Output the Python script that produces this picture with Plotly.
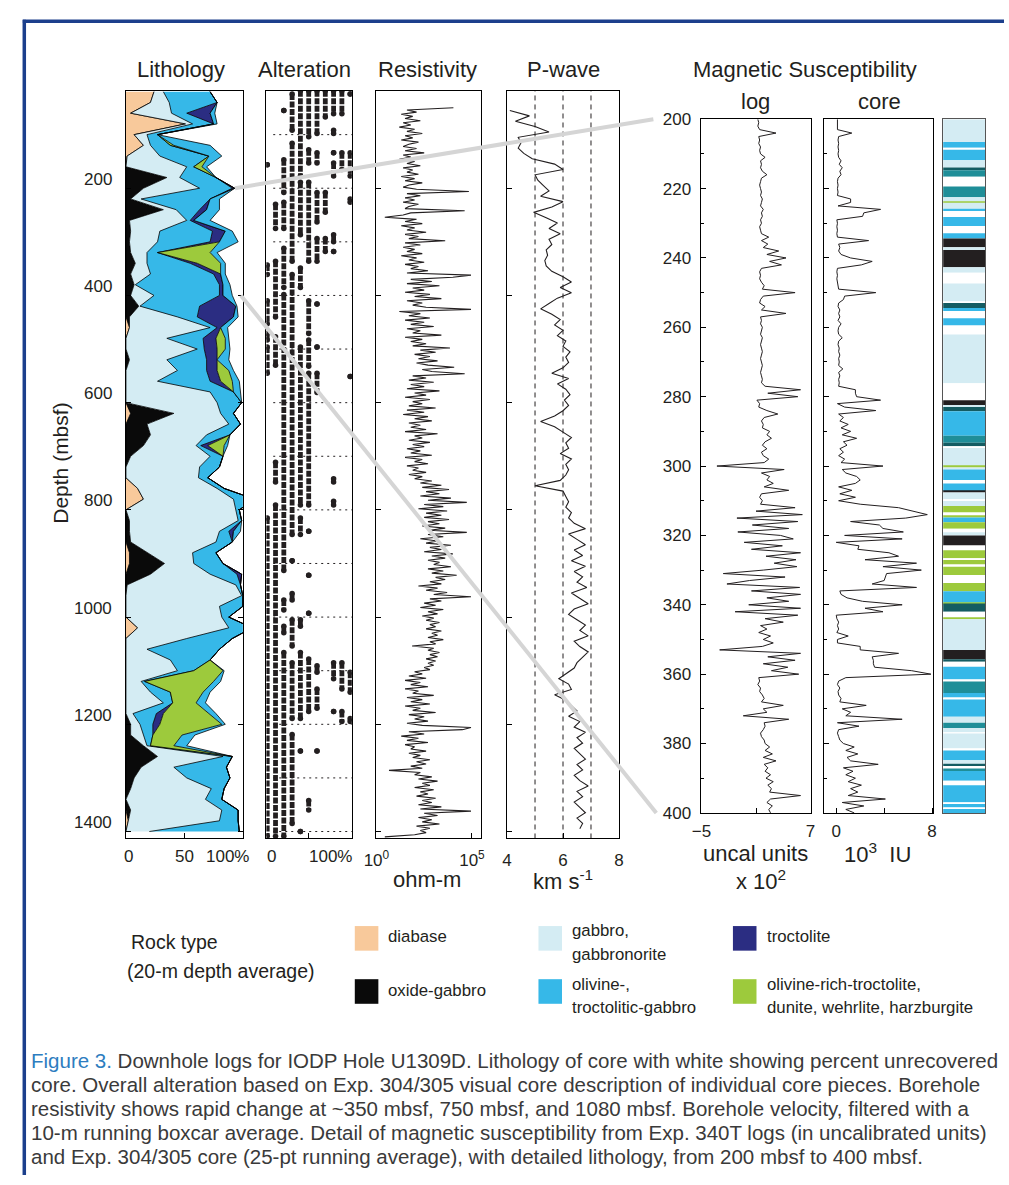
import numpy as np
import plotly.graph_objects as go

W, H = 1009, 1185
FONT = "Liberation Sans, Arial, Helvetica, sans-serif"
INK = "#231f20"

# ---------------------------------------------------------------- data
# Lithology: 20-m depth averages, percent of each rock type (rest = unrecovered)
lith_depth = list(range(20, 1401, 20))
diabase = [24, 21, 4, 51, 7, 15, 1, 0, 0, 0, 0, 0, 0, 0, 0, 0, 0, 0, 0, 0,
           0, 0, 3, 0, 0, 0, 0, 0, 0, 0, 4, 0, 0, 0, 0, 0, 0, 10, 15, 0,
           0, 0, 0, 3, 3, 0, 0, 0, 0, 0, 10, 0, 0, 0, 0, 0, 0, 0, 0, 0,
           0, 0, 0, 0, 0, 0, 0, 0, 2, 0]
oxide_gabbro = [0, 0, 0, 0, 0, 0, 0, 0, 35, 15, 4, 32, 3, 4, 3, 4, 8, 4, 7, 4,
                11, 3, 0, 0, 0, 3, 0, 0, 0, 0, 37, 18, 21, 15, 4, 0, 0, 0, 0, 0,
                3, 3, 4, 15, 30, 21, 1, 0, 0, 0, 0, 0, 0, 0, 0, 0, 0, 0, 0, 4,
                4, 15, 27, 13, 7, 4, 0, 4, 0, 0]
gabbro = [8, 16, 35, 6, 11, 6, 28, 52, 11, 48, 9, 11, 49, 25, 24, 14, 10, 17, 1, 20,
          1, 41, 69, 35, 61, 32, 44, 27, 72, 78, 40, 70, 48, 45, 68, 63, 62, 68, 77, 94,
          93, 77, 73, 39, 25, 51, 93, 99, 80, 82, 78, 52, 18, 38, 44, 13, 21, 32, 6, 8,
          11, 3, 56, 28, 45, 69, 68, 78, 78, 20]
olivine_gabbro = [40, 41, 13, 18, 9, 17, 42, 6, 31, 28, 59, 20, 3, 45, 45, 9, 37, 54, 72, 56,
                  51, 17, 6, 31, 6, 34, 25, 45, 20, 21, 11, 10, 20, 4, 11, 17, 8, 6, 18, 3,
                  3, 8, 14, 20, 25, 23, 4, 1, 20, 6, 20, 39, 62, 34, 14, 3, 17, 8, 20, 11,
                  8, 3, 8, 45, 37, 11, 14, 14, 16, 77]
troctolite = [0, 0, 20, 0, 0, 0, 0, 0, 0, 2, 0, 6, 3, 11, 8, 0, 6, 6, 3, 3,
              31, 31, 3, 11, 11, 9, 9, 9, 0, 0, 0, 0, 0, 6, 0, 0, 0, 0, 0, 0,
              0, 4, 0, 0, 0, 4, 0, 0, 0, 0, 0, 0, 0, 0, 0, 0, 0, 0, 6, 6,
              0, 0, 0, 0, 0, 0, 0, 0, 0, 0]
olivine_rich = [0, 0, 0, 0, 0, 3, 0, 7, 0, 0, 0, 0, 0, 0, 0, 45, 20, 0, 0, 0,
                0, 0, 0, 8, 7, 0, 10, 10, 0, 0, 0, 0, 0, 14, 0, 0, 0, 0, 0, 0,
                0, 0, 0, 0, 0, 0, 0, 0, 0, 0, 0, 0, 0, 0, 25, 59, 28, 20, 39, 53,
                25, 20, 0, 0, 0, 0, 0, 0, 0, 0]
troctolitic_gabbro = [0, 0, 4, 3, 0, 31, 11, 4, 0, 0, 8, 11, 14, 6, 16, 6, 4, 4, 6, 8,
                      1, 4, 6, 3, 4, 10, 4, 6, 6, 0, 0, 0, 0, 3, 0, 0, 0, 0, 0, 0,
                      0, 6, 0, 0, 0, 0, 0, 0, 0, 0, 0, 0, 0, 0, 1, 6, 6, 8, 6, 3,
                      11, 11, 0, 0, 0, 0, 0, 0, 0, 0]

rock_colors = ["#f8c99b", "#0a0a0a", "#d4ecf3", "#36b8e8", "#2b2d82", "#9dca3c"]

# Alteration: depth intervals (mbsf) of core pieces at each alteration level
alt_levels = [0, 20, 40, 60, 80, 100, 120, 140, 160, 180, 200]
alt_000 = [(156, 156), (343, 361), (410, 453), (471, 483), (496, 545), (815, 1409)]
alt_020 = [(230, 275), (336, 440), (477, 530), (711, 748), (791, 1409)]
alt_040 = [(55, 55), (147, 208), (226, 275), (312, 385), (398, 913), (968, 987),
           (1017, 1029), (1066, 1409)]
alt_060 = [(24, 92), (116, 336), (361, 846), (895, 895), (956, 968), (1005, 1054),
           (1085, 1189), (1219, 1385)]
alt_080 = [(18, 177), (189, 287), (349, 385), (496, 791), (815, 846), (1005, 1017),
           (1066, 1189), (1250, 1250), (1400, 1400)]
alt_100 = [(18, 104), (128, 153), (189, 336), (410, 471), (483, 532), (545, 791),
           (840, 840), (922, 922), (993, 993), (1078, 1176), (1342, 1360)]
alt_120 = [(18, 98), (134, 153), (208, 263), (294, 336), (416, 416), (496, 496),
           (545, 581), (1091, 1103), (1134, 1170), (1250, 1250)]
alt_140 = [(18, 67), (208, 245), (294, 318)]
alt_160 = [(18, 61), (92, 98), (134, 134), (153, 177), (287, 300), (318, 318),
           (742, 748), (784, 791), (1085, 1115), (1176, 1176)]
alt_180 = [(18, 61), (134, 165), (1085, 1134), (1176, 1195)]
alt_200 = [(24, 24), (134, 177), (220, 226), (551, 551), (1103, 1140), (1189, 1195)]
alt_ref_depths = list(range(100, 1401, 100))

# Resistivity: log10(ohm-m), every 4 m from 50 mbsf
res_start, res_step = 50, 4
res_log10 = [
    4.03, 1.6, 2.1, 1.3, 1.9, 1.5, 2.3, 1.4, 1.8, 1.2,
    2.0, 1.6, 2.4, 1.5, 1.9, 1.3, 2.2, 1.7, 1.4, 2.1,
    1.5, 2.5, 1.4, 1.8, 1.2, 2.0, 1.6, 2.3, 1.4, 1.9,
    1.6, 2.2, 1.3, 2.0, 1.5, 2.4, 1.7, 1.4, 2.1, 4.84,
    1.6, 2.3, 1.5, 2.0, 1.4, 2.2, 1.7, 1.5, 4.62, 1.8,
    1.4, 0.44, 2.1, 1.5, 2.4, 1.3, 2.0, 1.6, 2.6, 1.5,
    2.2, 1.7, 3.6, 1.5, 2.3, 1.4, 2.0, 1.6, 2.4, 1.3,
    2.1, 1.7, 2.5, 1.5, 2.2, 1.8, 2.7, 1.6, 4.95, 4.0,
    1.8, 2.9, 1.6, 3.3, 1.9, 2.5, 1.5, 2.8, 2.0, 3.4,
    1.6, 2.4, 1.9, 2.6, 4.95, 1.2, 2.3, 1.7, 2.8, 1.5,
    2.5, 1.8, 3.0, 1.6, 2.3, 1.9, 3.4, 1.5, 2.4, 1.8,
    2.6, 1.9, 3.85, 2.3, 3.1, 2.0, 2.8, 2.2, 3.2, 2.1,
    2.7, 4.07, 2.4, 2.9, 4.62, 1.9, 2.6, 1.7, 3.0, 1.8,
    2.5, 1.6, 3.3, 2.0, 2.6, 1.5, 2.8, 1.9, 2.4, 1.7,
    3.1, 1.6, 2.5, 1.4, 2.7, 2.0, 2.9, 1.7, 2.3, 1.8,
    2.6, 1.5, 3.2, 2.0, 2.4, 1.7, 2.8, 1.9, 2.5, 1.6,
    2.3, 1.8, 2.9, 1.5, 2.4, 2.0, 2.7, 1.6, 2.2, 1.9,
    2.6, 1.7, 2.4, 2.0, 2.9, 2.3, 3.4, 2.4, 3.8, 2.6,
    3.3, 2.3, 3.9, 2.7, 4.73, 2.5, 3.5, 2.2, 3.7, 2.6,
    3.4, 2.5, 3.8, 2.7, 3.3, 2.4, 3.6, 2.8, 4.73, 2.7,
    3.5, 2.3, 3.2, 2.6, 3.9, 2.8, 3.4, 2.5, 4.0, 2.9,
    3.6, 2.7, 3.3, 3.0, 3.9, 2.7, 3.5, 2.9, 4.2, 3.1,
    3.6, 2.8, 3.4, 2.2, 3.2, 2.6, 3.7, 3.0, 4.95, 2.8,
    3.4, 2.5, 3.1, 2.3, 3.5, 2.7, 3.2, 2.4, 3.0, 2.6,
    3.3, 2.8, 3.1, 2.6, 3.4, 2.9, 3.2, 2.7, 3.5, 2.8,
    3.1, 1.87, 3.0, 2.7, 3.3, 2.8, 3.2, 2.6, 3.1, 2.7,
    3.0, 2.5, 2.8, 2.0, 2.4, 1.7, 2.6, 1.5, 2.3, 1.8,
    2.7, 1.5, 2.2, 1.9, 3.0, 1.6, 2.4, 1.8, 2.8, 1.5,
    2.3, 1.9, 3.1, 1.7, 2.5, 2.0, 2.7, 1.6, 2.4, 4.95,
    4.5, 1.7, 2.5, 1.3, 2.2, 1.6, 2.7, 1.5, 2.0, 1.8,
    2.6, 1.7, 2.3, 1.9, 2.8, 2.1, 2.6, 1.8, 2.4, 0.66,
    2.3, 2.0, 2.9, 2.2, 3.2, 2.4, 2.8, 2.0, 3.0, 2.3,
    2.7, 2.1, 3.1, 2.4, 2.9, 2.2, 3.4, 2.3, 4.95, 2.5,
    3.2, 2.2, 2.9, 2.4, 3.3, 2.1, 2.8, 2.3, 2.6, 2.0,
    0.44]

# P-wave velocity (km/s), 10-m boxcar, every 10 m from 55 mbsf
pw_start, pw_step = 55, 10
pwave = [
    4.1, 4.8, 4.3, 5.0, 5.5, 4.4, 4.5, 4.4, 4.6, 4.9,
    5.7, 6.0, 5.0, 5.1, 5.3, 5.5, 5.2, 6.0, 5.6, 4.95,
    5.4, 5.8, 5.5, 5.9, 5.5, 5.6, 5.4, 5.45, 5.35, 5.4,
    5.6, 6.0, 6.3, 5.9, 6.3, 5.8, 5.5, 5.2, 5.6, 5.9,
    5.7, 6.0, 5.8, 6.1, 6.0, 6.25, 6.1, 6.2, 6.0, 5.6,
    6.2, 5.8, 6.1, 6.25, 6.05, 6.2, 6.0, 5.7, 5.2, 5.7,
    6.0, 6.3, 6.1, 6.2, 5.9, 6.3, 6.1, 6.2, 6.1, 5.9,
    5.0, 6.0, 6.1, 6.2, 6.1, 6.3, 6.2, 6.4, 6.8, 6.2,
    6.5, 6.8, 6.4, 6.7, 6.3, 6.8, 6.4, 6.7, 6.5, 6.85,
    6.3, 6.6, 6.9, 6.4, 6.2, 6.5, 6.8, 6.6, 6.9, 6.4,
    6.6, 6.9, 6.7, 6.5, 6.4, 6.1, 5.85, 6.2, 6.3, 5.7,
    6.1, 6.3, 6.5, 6.2, 6.6, 6.4, 6.8, 6.5, 6.7, 6.4,
    6.6, 6.8, 6.5, 6.7, 6.4, 6.6, 6.9, 6.5, 6.7, 6.4,
    6.6, 6.8, 6.5, 6.7, 6.6]
pwave_ref = [5, 6, 7]

# Magnetic susceptibility, 1-m steps from 200 to 400 mbsf
mag_start = 200
mag_log = [
    1.2, 1.3, 1.2, 1.4, 3.2, 1.3, 1.4, 1.3, 1.5, 1.4,
    1.5, 2.0, 1.5, 1.6, 1.5, 1.7, 2.2, 1.6, 1.5, 1.4,
    1.5, 1.6, 1.5, 1.7, 1.6, 1.5, 1.8, 1.6, 1.7, 1.5,
    1.6, 1.4, 1.5, 1.6, 2.4, 1.6, 2.3, 1.8, 3.5, 2.2,
    4.3, 2.5, 3.8, 1.6, 1.4, 1.5, 1.4, 1.6, 1.9, 1.7,
    5.3, 1.8, 1.5, 1.4, 2.0, 1.6, 4.3, 1.5, 1.6, 1.5,
    1.7, 1.6, 1.5, 1.7, 1.6, 1.5, 1.6, 1.7, 1.6, 1.5,
    1.6, 1.7, 1.6, 1.5, 1.6, 1.7, 1.6, 2.0, 5.9, 2.3,
    5.6, 1.1, 1.4, 1.3, 2.2, 3.4, 1.9, 1.6, 1.8, 1.7,
    2.5, 2.2, 2.7, 2.0, 1.7, 2.2, 1.6, 1.8, 2.4, 1.9,
    -3.3, 4.1, 1.6, 2.5, 2.2, 2.9, 1.9, 4.6, 1.6, 1.4,
    1.7, 1.5, 5.3, 1.0, 6.1, -1.1, 5.6, 0.6, 4.6, -1.0,
    3.7, 5.1, -0.3, 3.9, 0.5, 5.9, 2.1, 5.4, 3.0, 5.5,
    1.8, -2.6, 4.2, 0.3, -2.2, 5.8, 0.5, 5.9, 2.2, 4.6,
    0.2, 5.9, -1.3, 5.6, 2.0, 4.0, 1.5, 2.2, 1.3, 2.6,
    1.8, 2.9, 1.7, -3.0, 5.9, 2.3, 5.3, 1.8, 4.5, 2.7,
    5.7, 1.3, 1.4, 1.2, 1.5, 1.4, 1.7, 1.9, 1.6, 4.0,
    1.8, 2.2, -0.4, 4.6, 1.9, 2.0, 1.8, 1.5, 1.6, 1.9,
    2.0, 2.5, 2.0, 2.8, 1.8, 3.2, 1.9, 2.3, 2.0, 2.6,
    2.1, 2.9, 2.3, 2.7, 2.5, 5.9, 2.6, 2.2, 2.8, 2.4,
    2.6]
mag_core = [
    0.1, 0.1, 0.15, 0.1, 1.3, 0.2, 0.15, 0.2, 0.15, 0.2,
    0.15, 0.2, 0.4, 0.25, 0.5, 0.3, 0.4, 0.15, 0.1, 0.15,
    0.1, 0.15, 0.1, 1.2, 1.2, 0.15, 3.7, 2.3, 2.2, 0.05,
    0.1, 0.05, 0.1, 0.05, 0.1, 2.7, 0.2, 0.3, 0.2, 0.4,
    1.2, 3.0, 2.1, 0.1, 0.05, 0.1, 0.05, 0.1, 0.1, 0.2,
    3.3, 0.7, 0.6, 0.2, 0.15, 0.3, 0.2, 0.3, 0.15, 0.4,
    0.2, 0.15, 0.2, 0.5, 0.2, 0.15, 0.25, 0.2, 0.3, 0.2,
    0.25, 0.2, 0.55, 0.2, 0.3, 0.2, 0.25, 0.2, 1.6, 1.6,
    1.7, 3.7, 0.1, 0.7, 3.3, 0.2, 0.6, 0.3, 1.0, 0.4,
    1.2, 0.5, 1.7, 0.6, 0.9, 0.3, 0.6, 0.2, 0.7, 0.4,
    3.9, 0.5, 0.8, 1.7, 2.0, 1.6, 0.2, 1.3, 0.3, 1.6,
    0.2, 2.0, 5.2, 6.3, 7.6, 5.8, 1.2, 3.6, 3.9, 5.6,
    0.7, 5.5, 0.0, 1.9, 1.8, 4.4, 5.2, 2.4, 6.7, 3.9,
    7.1, 4.2, 4.1, 4.0, 3.0, 6.7, 0.3, 0.4, 0.9, 2.2,
    5.5, 2.4, 3.9, 0.0, 0.05, 0.2, 0.1, 0.2, 0.05, 1.0,
    0.1, 0.1, 2.0, 2.0, 5.2, 3.0, 3.1, 3.1, 3.2, 6.3,
    7.9, 0.8, 0.2, 0.1, 0.3, 0.15, 0.2, 0.4, 0.3, 2.5,
    0.5, 1.2, 0.8, 5.5, 0.1, 1.9, 0.2, 0.1, 0.2, 0.3,
    0.6, 1.5, 0.8, 1.8, 0.9, 1.2, 3.5, 0.6, 1.4, 0.8,
    1.6, 1.0, 2.1, 1.2, 1.8, 1.0, 4.1, 0.5, 2.3, 0.8,
    1.5]

# Detailed lithology 200-400 mbsf
band_top = [200, 206.6, 208.2, 208.8, 211.8, 213.9, 214.7, 216.6, 219.4, 222.5,
            223.8, 224.1, 225.8, 226.5, 228.2, 230.8, 232.9, 234.4, 236.9, 237.7,
            242.7, 244.3, 247.4, 252.6, 253.0, 254.4, 255.3, 257.4, 259.5, 262.1,
            276.1, 281.0, 282.4, 283.0, 284.2, 291.3, 293.3, 294.3, 294.8, 300.0,
            300.4, 301.0, 304.0, 305.0, 307.2, 307.6, 309.6, 310.1, 311.5, 313.4,
            314.3, 314.8, 316.2, 318.1, 319.1, 320.0, 322.9, 324.3, 326.6, 327.1,
            328.5, 329.0, 331.4, 333.7, 336.1, 339.4, 339.6, 342.0, 343.7, 344.2,
            353.0, 355.7, 356.4, 357.9, 361.6, 362.1, 365.4, 366.9, 367.3, 372.3,
            374.0, 375.5, 376.8, 377.1, 381.5, 382.0, 384.8, 385.8, 386.5, 387.2,
            387.9, 390.7, 392.0, 397.0, 397.4, 398.5, 398.9]
band_bottom = band_top[1:] + [400.0]
band_kind = ["lb", "cy", "wh", "cy", "lb", "dt", "te", "wh", "te", "lb",
             "gr", "lb", "cy", "wh", "cy", "wh", "cy", "bk", "lb", "bk",
             "lb", "wh", "lb", "wh", "dt", "cy", "wh", "cy", "wh", "lb",
             "wh", "bk", "lb", "dt", "cy", "te", "dt", "wh", "lb", "gr",
             "lb", "cy", "wh", "cy", "bk", "lb", "wh", "lb", "gr", "wh",
             "gr", "cy", "gr", "wh", "lb", "bk", "wh", "gr", "wh", "gr",
             "wh", "gr", "wh", "gr", "cy", "gr", "dt", "wh", "gr", "lb",
             "bk", "dt", "wh", "cy", "wh", "te", "cy", "wh", "cy", "lb",
             "te", "lb", "wh", "lb", "wh", "cy", "lb", "dt", "wh", "te",
             "cy", "wh", "cy", "wh", "cy", "wh", "cy"]
band_palette = {"lb": "#d4ecf3", "cy": "#36b8e8", "te": "#1f8e98", "dt": "#145c62",
                "bk": "#231f20", "gr": "#9dca3c", "wh": "#ffffff"}

caption_lines = [
    "<span style='color:#2d7dc0'>Figure 3.</span> Downhole logs for IODP Hole U1309D. Lithology of core with white showing percent unrecovered",
    "core. Overall alteration based on Exp. 304/305 visual core description of individual core pieces. Borehole",
    "resistivity shows rapid change at ~350 mbsf, 750 mbsf, and 1080 mbsf. Borehole velocity, filtered with a",
    "10-m running boxcar average. Detail of magnetic susceptibility from Exp. 340T logs (in uncalibrated units)",
    "and Exp. 304/305 core (25-pt running average), with detailed lithology, from 200 mbsf to 400 mbsf.",
]

# ---------------------------------------------------------------- geometry helpers
def px(x):
    return x / W


def py(y):
    return 1 - y / H


LEFT_TOP, LEFT_BOT = 83, 843
MAG_TOP, MAG_BOT = 112, 817
DEPTH_RANGE = [1413, 18]
MAG_RANGE = [400, 200]
left_dom = [py(LEFT_BOT), py(LEFT_TOP)]
mag_dom = [py(MAG_BOT), py(MAG_TOP)]


def left_depth_paper(d):
    return left_dom[0] + (DEPTH_RANGE[0] - d) / (DEPTH_RANGE[0] - DEPTH_RANGE[1]) * (left_dom[1] - left_dom[0])


def mag_depth_paper(d):
    return mag_dom[0] + (MAG_RANGE[0] - d) / (MAG_RANGE[0] - MAG_RANGE[1]) * (mag_dom[1] - mag_dom[0])


# ---------------------------------------------------------------- traces
fig = go.Figure()

lith_series = [diabase, oxide_gabbro, gabbro, olivine_gabbro, troctolite, olivine_rich, troctolitic_gabbro]
lith_fill = [rock_colors[0], rock_colors[1], rock_colors[2], rock_colors[3],
             rock_colors[4], rock_colors[5], rock_colors[3]]
for vals, col in zip(lith_series, lith_fill):
    fig.add_trace(go.Scatter(
        x=vals, y=lith_depth, mode="lines", stackgroup="lith", orientation="h",
        line=dict(color="black", width=0.8), fillcolor=col,
        xaxis="x", yaxis="y", hoverinfo="skip", showlegend=False))

alt_columns = [alt_000, alt_020, alt_040, alt_060, alt_080, alt_100,
               alt_120, alt_140, alt_160, alt_180, alt_200]
for lvl, ivs in zip(alt_levels, alt_columns):
    xs, ys = [], []
    for a, b in ivs:
        xs += [lvl, lvl, None]
        ys += [a, b, None]
    fig.add_trace(go.Scatter(
        x=xs, y=ys, mode="lines+markers", line=dict(color=INK, width=4.8, dash="6px,1.5px"),
        marker=dict(color=INK, size=5.5), xaxis="x2", yaxis="y2",
        hoverinfo="skip", showlegend=False))

res_depth = res_start + res_step * np.arange(len(res_log10))
fig.add_trace(go.Scatter(
    x=np.power(10.0, np.array(res_log10)), y=res_depth, mode="lines",
    line=dict(color=INK, width=1.1), xaxis="x3", yaxis="y3",
    hoverinfo="skip", showlegend=False))

pw_depth = pw_start + pw_step * np.arange(len(pwave))
fig.add_trace(go.Scatter(
    x=pwave, y=pw_depth, mode="lines", line=dict(color=INK, width=1.1),
    xaxis="x4", yaxis="y4", hoverinfo="skip", showlegend=False))

mag_depth = mag_start + np.arange(len(mag_log))
fig.add_trace(go.Scatter(
    x=mag_log, y=mag_depth, mode="lines", line=dict(color=INK, width=1),
    xaxis="x5", yaxis="y5", hoverinfo="skip", showlegend=False))
core_depth = mag_start + np.arange(len(mag_core))
fig.add_trace(go.Scatter(
    x=mag_core, y=core_depth, mode="lines", line=dict(color=INK, width=1),
    xaxis="x6", yaxis="y6", hoverinfo="skip", showlegend=False))

fig.add_trace(go.Bar(
    x=[0.5] * len(band_top), y=[b - t for t, b in zip(band_top, band_bottom)],
    base=band_top, width=1, marker=dict(color=[band_palette[k] for k in band_kind],
                                        line=dict(width=0)),
    xaxis="x7", yaxis="y7", hoverinfo="skip", showlegend=False))

# ---------------------------------------------------------------- axes
TICKFONT = dict(size=17, color=INK, family=FONT)


def ax(**kw):
    d = dict(showline=True, mirror=True, linecolor="black", linewidth=1,
             showgrid=False, zeroline=False, ticks="inside", ticklen=5,
             tickcolor="black", tickfont=TICKFONT, fixedrange=True)
    d.update(kw)
    return d


depth_ticks = list(range(200, 1401, 200))
mag_ticks = list(range(200, 401, 20))
mag_minor = dict(tickmode="linear", tick0=200, dtick=10, ticks="inside", ticklen=3, tickcolor="black")

fig.update_layout(
    xaxis=ax(domain=[px(115), px(234)], range=[0, 100], tickvals=[0, 50, 100],
             showticklabels=False, anchor="y"),
    yaxis=ax(domain=left_dom, range=DEPTH_RANGE, tickvals=depth_ticks,
             showticklabels=False, anchor="x", mirror="ticks"),
    xaxis2=ax(domain=[px(258), px(345)], range=[-2, 204], tickvals=[0, 100],
              showticklabels=False, anchor="y2"),
    yaxis2=ax(domain=left_dom, range=DEPTH_RANGE, matches="y", ticks="",
              showticklabels=False, anchor="x2"),
    xaxis3=ax(domain=[px(370), px(477)], type="log", range=[0, 5.5],
              tickvals=[1, 1e5], ticktext=["10<sup>0</sup>", "10<sup>5</sup>"],
              anchor="y3", ticklabelstandoff=6),
    yaxis3=ax(domain=left_dom, range=DEPTH_RANGE, matches="y", tickvals=depth_ticks,
              showticklabels=False, anchor="x3"),
    xaxis4=ax(domain=[px(503), px(617)], range=[4, 8], tickvals=[4, 6, 8],
              anchor="y4", ticklabelstandoff=6),
    yaxis4=ax(domain=left_dom, range=DEPTH_RANGE, matches="y", tickvals=depth_ticks,
              showticklabels=False, anchor="x4"),
    xaxis5=ax(domain=[px(701), px(812)], range=[-5, 7], tickvals=[-5, 7],
              anchor="y5", ticklabelstandoff=3,
              minor=dict(tickmode="array", tickvals=[1], ticks="inside", ticklen=5, tickcolor="black")),
    yaxis5=ax(domain=mag_dom, range=MAG_RANGE, tickvals=mag_ticks, anchor="x5",
              ticklabelstandoff=6, minor=mag_minor),
    xaxis6=ax(domain=[px(826), px(937)], range=[-1, 8.1], tickvals=[0, 8],
              anchor="y6", ticklabelstandoff=3,
              minor=dict(tickmode="array", tickvals=[4], ticks="inside", ticklen=5, tickcolor="black")),
    yaxis6=ax(domain=mag_dom, range=MAG_RANGE, matches="y5", tickvals=mag_ticks,
              showticklabels=False, anchor="x6", minor=mag_minor),
    xaxis7=dict(domain=[px(947), px(990)], range=[0, 1], showline=True, mirror=True,
                linecolor="#555555", showticklabels=False, ticks="", showgrid=False,
                zeroline=False, anchor="y7", fixedrange=True),
    yaxis7=dict(domain=mag_dom, range=MAG_RANGE, matches="y5", showline=True, mirror=True,
                linecolor="#555555", showticklabels=False, ticks="", showgrid=False,
                zeroline=False, anchor="x7", fixedrange=True),
)

# ---------------------------------------------------------------- shapes
shapes = []
for v in pwave_ref:
    shapes.append(dict(type="line", xref="x4", yref="y4 domain", x0=v, x1=v, y0=0, y1=1,
                       line=dict(color=INK, width=1, dash="5px,4px"), layer="below"))
for d in alt_ref_depths:
    shapes.append(dict(type="line", xref="x2 domain", yref="y2", x0=0.08, x1=1, y0=d, y1=d,
                       line=dict(color=INK, width=1, dash="2px,4px"), layer="below"))
# zoom connector lines (200 and 400 mbsf)
for d, x0, x1 in [(200, 226, 652), (400, 232, 655)]:
    shapes.append(dict(type="line", xref="paper", yref="paper",
                       x0=px(x0), y0=left_depth_paper(d), x1=px(x1), y1=mag_depth_paper(d),
                       line=dict(color="#d5d5d5", width=4), layer="above"))
# page frame
shapes.append(dict(type="line", xref="paper", yref="paper", x0=px(10), x1=1, y0=py(12.5), y1=py(12.5),
                   line=dict(color="#1c3f8c", width=3.5)))
shapes.append(dict(type="line", xref="paper", yref="paper", x0=px(11.5), x1=px(11.5), y0=py(11), y1=0,
                   line=dict(color="#1c3f8c", width=3.5)))

# legend swatches
legend_cols = [348, 535, 733]
legend_rows = [932, 986]
legend_order = [[0, 1], [2, 3], [4, 5]]
legend_text = {0: ["diabase"], 1: ["oxide-gabbro"], 2: ["gabbro,", "gabbronorite"],
               3: ["olivine-,", "troctolitic-gabbro"], 4: ["troctolite"],
               5: ["olivine-rich-troctolite,", "dunite, wehrlite, harzburgite"]}
annotations = []
for ci, col_x in enumerate(legend_cols):
    for ri, row_y in enumerate(legend_rows):
        k = legend_order[ci][ri]
        shapes.append(dict(type="rect", xref="paper", yref="paper",
                           x0=px(col_x), x1=px(col_x + 24), y0=py(row_y + 25), y1=py(row_y),
                           fillcolor=rock_colors[k], line=dict(width=0)))
        lines = legend_text[k]
        tx = col_x + (32 if ci < 2 else 33)
        if len(lines) == 1:
            ys = [row_y + 11]
        else:
            ys = [row_y + 5, row_y + 29]
        for t, yy in zip(lines, ys):
            annotations.append(dict(text=t, x=px(tx), y=py(yy), xref="paper", yref="paper",
                                    xanchor="left", yanchor="middle", showarrow=False,
                                    font=dict(size=16.8, color=INK, family=FONT)))

fig.update_layout(shapes=shapes)


def note(text, x, y, size=17, anchor="center", **kw):
    a = dict(text=text, x=px(x), y=py(y), xref="paper", yref="paper", xanchor=anchor,
             yanchor="middle", showarrow=False, font=dict(size=size, color=INK, family=FONT))
    a.update(kw)
    annotations.append(a)


# panel titles
note("Lithology", 171, 61, 22)
note("Alteration", 297, 61, 22)
note("Resistivity", 422, 61, 22)
note("P-wave", 560, 61, 22)
note("Magnetic Susceptibility", 806, 61, 22)
note("log", 756, 94, 22)
note("core", 882, 94, 22)
note("Depth (mbsf)", 48, 462, 21, textangle=-90)

# depth labels of the main column
for d in depth_ticks:
    annotations.append(dict(text=str(d), x=px(103), y=d, xref="paper", yref="y",
                            xanchor="right", yanchor="middle", yshift=9, showarrow=False,
                            font=TICKFONT))
# lithology / alteration percentage labels
note("0", 118, 861)
note("50", 175, 861)
note("100%", 218, 861)
note("0", 263, 861)
note("100%", 323, 861)
# unit labels
note("ohm-m", 422, 885, 22)
note("km s<sup>-1</sup>", 560, 885, 22)
note("uncal units", 756, 858, 22)
note("x 10<sup>2</sup>", 762, 885, 22)
note("10<sup>3</sup>&nbsp;&nbsp;IU", 880, 858, 22)

# legend heading
note("Rock type", 118, 948, 19.5, anchor="left")
note("(20-m depth average)", 114, 978, 19.5, anchor="left")

# caption
for i, line in enumerate(caption_lines):
    annotations.append(dict(text=line, x=px(16), y=py(1069 + 24.4 * i), xref="paper", yref="paper",
                            xanchor="left", yanchor="middle", showarrow=False,
                            font=dict(size=20.5, color="#3a3a3a", family=FONT)))

fig.update_layout(
    annotations=annotations,
    width=W, height=H, margin=dict(l=0, r=0, t=0, b=0),
    paper_bgcolor="white", plot_bgcolor="white",
    font=dict(family=FONT, color=INK), barmode="overlay", showlegend=False,
)

fig.write_html("out.html")
